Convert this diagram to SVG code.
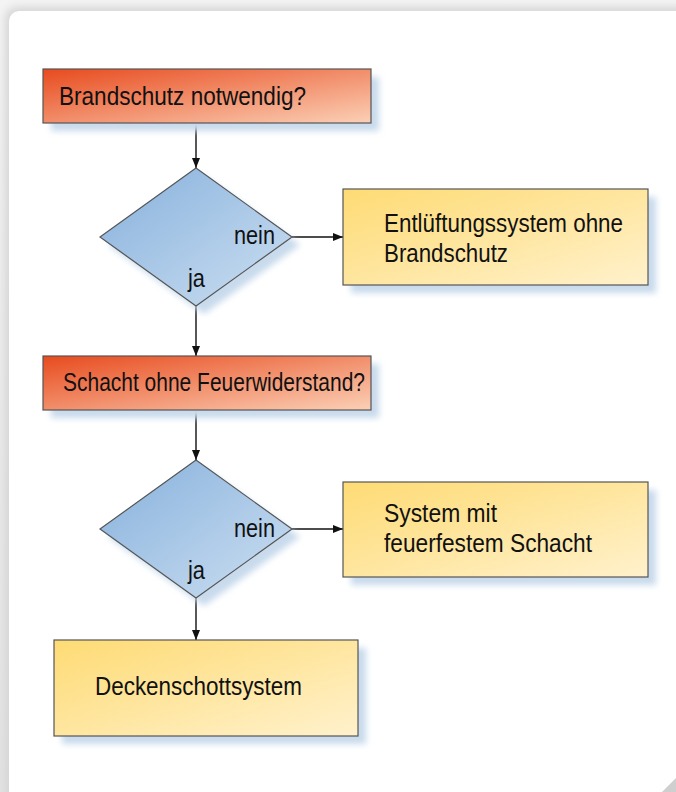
<svg xmlns="http://www.w3.org/2000/svg" width="676" height="792" viewBox="0 0 676 792">
<defs>
  <linearGradient id="gOrange" x1="0" y1="0" x2="1" y2="1">
    <stop offset="0" stop-color="#e84b1e"/>
    <stop offset="1" stop-color="#fbd0b6"/>
  </linearGradient>
  <linearGradient id="gYellow" x1="0" y1="0" x2="1" y2="1">
    <stop offset="0" stop-color="#fedb74"/>
    <stop offset="1" stop-color="#fff1cc"/>
  </linearGradient>
  <linearGradient id="gBlue" x1="0" y1="0" x2="1" y2="1">
    <stop offset="0" stop-color="#86b1dc"/>
    <stop offset="1" stop-color="#cddff2"/>
  </linearGradient>
  <linearGradient id="gTop" x1="0" y1="0" x2="0" y2="1">
    <stop offset="0" stop-color="#f4f4f4"/>
    <stop offset="1" stop-color="#e2e2e2"/>
  </linearGradient>
  <filter id="blur" x="-20%" y="-20%" width="140%" height="140%">
    <feGaussianBlur stdDeviation="3"/>
  </filter>
  <filter id="pblur" x="-5%" y="-5%" width="110%" height="110%">
    <feGaussianBlur stdDeviation="4"/>
  </filter>
  <marker id="arr" viewBox="0 0 10 8" refX="10" refY="4" markerWidth="10" markerHeight="8" markerUnits="userSpaceOnUse" orient="auto">
    <path d="M0,0 L10,4 L0,8 Z" fill="#111"/>
  </marker>
</defs>
<style>
  .box { stroke: #555; stroke-width: 1.2; }
  .shadow { fill: #c8daec; filter: url(#blur); }
  .lbl { font-family: "Liberation Sans", Arial, sans-serif; font-size: 26px; fill: #111; }
  .small { font-family: "Liberation Sans", Arial, sans-serif; font-size: 25px; fill: #111; }
  .conn { stroke: #111; stroke-width: 1.4; fill: none; marker-end: url(#arr); }
</style>
<rect x="0" y="0" width="676" height="792" fill="url(#gTop)"/>
<rect x="5" y="7" width="720" height="820" rx="12" fill="#d6d6d6" filter="url(#pblur)"/>
<rect x="9" y="11" width="700" height="800" rx="10" fill="#ffffff"/>
<path d="M662,792 L676,778 L676,792 Z" fill="#cfcfcf"/>

<g id="connectors">
  <line class="conn" x1="196" y1="123" x2="196" y2="168"/>
  <line class="conn" x1="292" y1="237" x2="343" y2="237"/>
  <line class="conn" x1="196" y1="306" x2="196" y2="356"/>
  <line class="conn" x1="196" y1="410" x2="196" y2="460"/>
  <line class="conn" x1="292" y1="529" x2="343" y2="529"/>
  <line class="conn" x1="196" y1="598" x2="196" y2="640"/>
</g>

<g id="n1">
  <rect class="shadow" x="51" y="77" width="328" height="54"/>
  <rect class="box" x="43" y="69" width="328" height="54" fill="url(#gOrange)"/>
  <text class="lbl" x="59" y="105" textLength="247" lengthAdjust="spacingAndGlyphs">Brandschutz notwendig?</text>
</g>

<g id="d1">
  <polygon class="shadow" points="204,176 300,245 204,314 108,245"/>
  <polygon class="box" points="196,168 292,237 196,306 100,237" fill="url(#gBlue)"/>
  <text class="small" x="234" y="244" textLength="41" lengthAdjust="spacingAndGlyphs">nein</text>
  <text class="small" x="188" y="287" textLength="17" lengthAdjust="spacingAndGlyphs">ja</text>
</g>

<g id="n2">
  <rect class="shadow" x="351" y="197" width="305" height="96"/>
  <rect class="box" x="343" y="189" width="305" height="96" fill="url(#gYellow)"/>
  <text class="lbl" x="384" y="232" textLength="239" lengthAdjust="spacingAndGlyphs">Entlüftungssystem ohne</text>
  <text class="lbl" x="384" y="262" textLength="124" lengthAdjust="spacingAndGlyphs">Brandschutz</text>
</g>

<g id="n3">
  <rect class="shadow" x="51" y="364" width="328" height="54"/>
  <rect class="box" x="43" y="356" width="328" height="54" fill="url(#gOrange)"/>
  <text class="lbl" x="63" y="391" textLength="302" lengthAdjust="spacingAndGlyphs">Schacht ohne Feuerwiderstand?</text>
</g>

<g id="d2">
  <polygon class="shadow" points="204,468 300,537 204,606 108,537"/>
  <polygon class="box" points="196,460 292,529 196,598 100,529" fill="url(#gBlue)"/>
  <text class="small" x="234" y="537" textLength="41" lengthAdjust="spacingAndGlyphs">nein</text>
  <text class="small" x="188" y="579" textLength="17" lengthAdjust="spacingAndGlyphs">ja</text>
</g>

<g id="n4">
  <rect class="shadow" x="351" y="490" width="305" height="95"/>
  <rect class="box" x="343" y="482" width="305" height="95" fill="url(#gYellow)"/>
  <text class="lbl" x="384" y="522" textLength="113" lengthAdjust="spacingAndGlyphs">System mit</text>
  <text class="lbl" x="384" y="552" textLength="208" lengthAdjust="spacingAndGlyphs">feuerfestem Schacht</text>
</g>

<g id="n5">
  <rect class="shadow" x="62" y="648" width="304" height="96"/>
  <rect class="box" x="54" y="640" width="304" height="96" fill="url(#gYellow)"/>
  <text class="lbl" x="95" y="695" textLength="207" lengthAdjust="spacingAndGlyphs">Deckenschottsystem</text>
</g>
</svg>
